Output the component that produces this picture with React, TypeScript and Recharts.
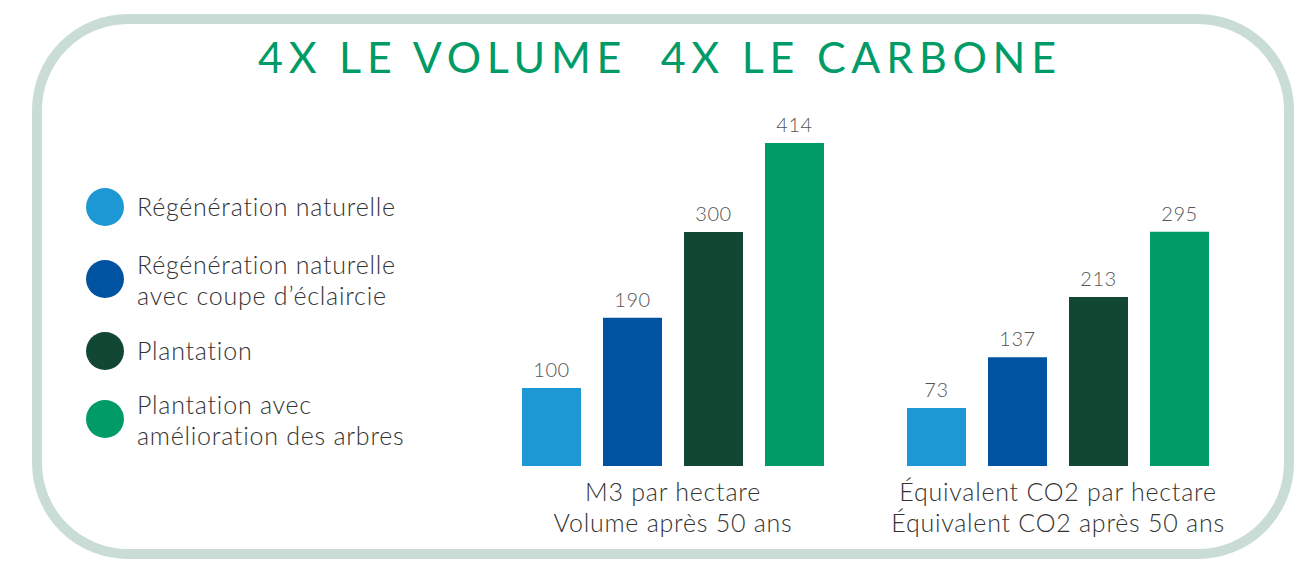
import React from 'react';
import { BarChart, Bar, XAxis, YAxis, LabelList } from 'recharts';

// series (legend order)
const SERIES = [
  'Régénération naturelle',
  'Régénération naturelle avec coupe d’éclaircie',
  'Plantation',
  'Plantation avec amélioration des arbres',
];
const LEGEND_LINES = [
  ['Régénération naturelle'],
  ['Régénération naturelle', 'avec coupe d’éclaircie'],
  ['Plantation'],
  ['Plantation avec', 'amélioration des arbres'],
];
const COLORS = ['#1E98D4', '#0053A0', '#124734', '#009B66'];

// values per group
const VOLUME_VALUES = [100, 190, 300, 414];
const CO2_VALUES = [73, 137, 213, 295];

const VOLUME_LABEL = ['M3 par hectare', 'Volume après 50 ans'];
const CO2_LABEL = ['Équivalent CO2 par hectare', 'Équivalent CO2 après 50 ans'];

const TITLE = '4X LE VOLUME  4X LE CARBONE';

const FONT = 'Lato, "Open Sans", sans-serif';
const BASELINE = 466;
const AXIS_H = 90;

const toRow = (label: string[], values: number[]) => {
  const row: Record<string, string | number> = { group: label[0] };
  values.forEach((v, i) => {
    row[`s${i}`] = v;
  });
  return [row];
};

function GroupTick(props: any) {
  const { x, y, lines } = props;
  return (
    <g transform={`translate(${x},${y})`}>
      {lines.map((t: string, i: number) => (
        <text
          key={i}
          x={0}
          y={27 + i * 31}
          textAnchor="middle"
          fontFamily={FONT}
          fontWeight={300}
          fontSize={25}
          letterSpacing={0.75}
          fill="#333"
        >
          {t}
        </text>
      ))}
    </g>
  );
}

function GroupChart({ label, values, center, plotH }: { label: string[]; values: number[]; center: number; plotH: number }) {
  const w = 380;
  return (
    <div style={{ position: 'absolute', left: center - w / 2, top: BASELINE - plotH }}>
      <BarChart
        width={w}
        height={plotH + AXIS_H}
        data={toRow(label, values)}
        margin={{ top: 0, right: 0, bottom: 0, left: 0 }}
        barGap={22}
      >
        <XAxis
          dataKey="group"
          height={AXIS_H}
          axisLine={false}
          tickLine={false}
          interval={0}
          tick={(p: any) => <GroupTick {...p} lines={label} />}
        />
        <YAxis hide domain={[0, 500]} allowDataOverflow />
        {SERIES.map((s, i) => (
          <Bar key={s} name={s} dataKey={`s${i}`} fill={COLORS[i]} barSize={59} isAnimationActive={false}>
            <LabelList
              dataKey={`s${i}`}
              position="top"
              offset={11}
              fill="#555"
              fontSize={20}
              letterSpacing={0.6}
              fontWeight={300}
              fontFamily={FONT}
            />
          </Bar>
        ))}
      </BarChart>
    </div>
  );
}

export default function App() {
  const legendY = [207, 279, 351, 419];
  return (
    <div style={{ position: 'absolute', left: 0, top: 0, width: 1307, height: 561, overflow: 'hidden', background: '#fff', fontFamily: FONT }}>
      <svg width={1307} height={561} style={{ position: 'absolute', left: 0, top: 0 }}>
        <rect x={37} y={19} width={1252} height={535} rx={91} ry={91} fill="none" stroke="#C9DCD5" strokeWidth={10} />
        <text
          x={258}
          y={73}
          fontFamily={FONT}
          fontSize={43}
          fill="#009B66"
          textLength={798}
          lengthAdjust="spacing"
          style={{ whiteSpace: 'pre' }}
        >
          {TITLE}
        </text>
        {LEGEND_LINES.map((lines, i) => (
          <g key={i}>
            <circle cx={105} cy={legendY[i]} r={19} fill={COLORS[i]} />
            {lines.map((t, j) => (
              <text
                key={j}
                x={137}
                y={lines.length === 1 ? legendY[i] + 9 : legendY[i] - 5 + j * 31}
                fontFamily={FONT}
                fontWeight={300}
                fontSize={25}
                letterSpacing={0.75}
                fill="#333"
              >
                {t}
              </text>
            ))}
          </g>
        ))}
      </svg>
      <GroupChart label={VOLUME_LABEL} values={VOLUME_VALUES} center={672.5} plotH={390} />
      <GroupChart label={CO2_LABEL} values={CO2_VALUES} center={1057.5} plotH={397} />
    </div>
  );
}
